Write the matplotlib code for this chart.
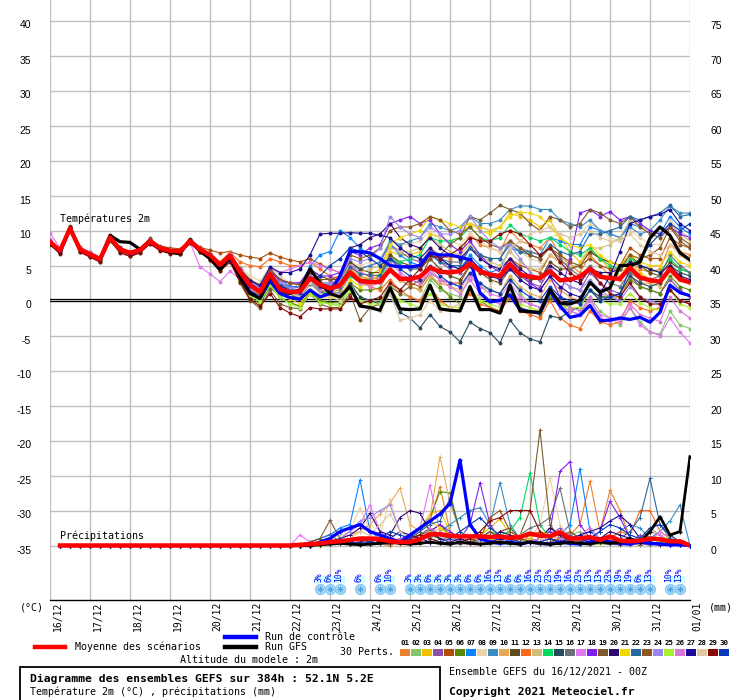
import matplotlib
matplotlib.use('Agg')
import matplotlib.pyplot as plt
from matplotlib.lines import Line2D
from matplotlib.patches import Rectangle

# ---------------- data ----------------
days = ['16/12', '17/12', '18/12', '19/12', '20/12', '21/12', '22/12', '23/12',
        '24/12', '25/12', '26/12', '27/12', '28/12', '29/12', '30/12', '31/12', '01/01']
steps = list(range(65))          # 6-hourly steps, 0h .. 384h

member_colors = ['#E8822E', '#88C66E', '#F0C000', '#8C50A8', '#B04E0A', '#5A8A00',
                 '#0A84FF', '#E8D4A8', '#3C8CC0', '#E8A858', '#5E4A1A', '#F86A1E',
                 '#D2BE78', '#00D860', '#284A5E', '#6A7078', '#E078F0', '#8020F0',
                 '#7C5A2E', '#2C0870', '#F0D800', '#2868A0', '#8E5620', '#9A88F0',
                 '#A8F030', '#D878D8', '#1C0C98', '#E0C8A0', '#880808', '#0838B8']

# 2m temperature (degC), members 01..30
temp_members = [
    [8.3,7.0,10.4,7.2, 6.4,5.8,8.8,7.0, 6.5,7.0,8.3,7.3, 7.0,6.9,8.4,7.1, 6.2,4.8,6.0,3.5, 1.5,0.5,3.2,1.5, 0.8,0.5,2.5,1.5, 1.2,1.5,4.5,3.5, 3.0,3.5,6.5,5.0, 4.5,4.8,7.5,6.5, 6.0,6.5,9.5,8.0, 7.5,7.0,10.0,8.5, 8.0,7.5,9.0,6.5, 5.0,4.0,6.5,5.0, 3.5,3.0,5.5,4.5, 4.0,4.5,8.0,7.0, 6.5],
    [8.5,7.2,10.2,7.4, 6.7,6.0,8.6,7.1, 6.6,7.1,8.2,7.4, 7.2,7.1,8.2,7.0, 6.0,4.5,5.5,3.0, 1.0,0.0,2.5,0.5, -0.5,-0.8,1.5,0.0, -0.5,-0.5,2.0,0.5, 0.0,-0.3,2.5,1.0, 0.5,0.0,3.0,1.5, 1.0,0.5,3.5,2.0, 1.5,1.0,3.5,1.0, -0.5,-1.0,1.5,-0.5, -1.5,-2.0,0.5,-1.5, -2.5,-3.5,-1.0,-3.0, -4.5,-4.8,-1.5,-3.5, -4.0],
    [8.2,6.9,10.5,7.3, 6.5,5.9,8.9,7.2, 6.7,7.0,8.6,7.6, 7.0,6.8,8.6,7.2, 6.4,5.0,6.2,3.8, 1.8,0.8,3.5,1.8, 0.8,0.3,2.8,1.5, 1.0,1.2,4.0,3.0, 3.5,4.5,7.0,6.5, 6.5,7.0,9.5,9.0, 8.5,9.0,11.0,10.5, 10.0,10.5,12.5,12.0, 11.5,10.5,11.5,9.0, 7.0,5.5,7.5,6.0, 4.5,3.5,5.5,4.0, 3.0,2.5,5.0,3.5, 2.5],
    [8.6,7.3,10.3,7.5, 6.8,6.1,9.2,7.5, 6.9,7.3,8.7,7.6, 7.2,7.0,8.7,7.4, 6.5,5.2,6.5,4.2, 2.5,1.5,4.0,2.5, 2.0,1.8,3.5,2.5, 2.5,2.8,5.5,4.5, 5.0,5.5,8.0,7.0, 6.0,5.5,7.0,5.5, 4.5,4.0,6.0,4.5, 3.5,3.0,5.0,3.5, 2.5,2.0,4.5,3.0, 2.0,1.5,4.0,2.5, 1.5,1.0,3.5,2.0, 1.5,1.0,3.0,1.5, 0.5],
    [8.4,7.1,10.4,7.6, 6.9,6.2,9.0,7.4, 7.0,7.4,8.5,7.8, 7.5,7.4,8.6,7.6, 7.2,6.8,7.0,6.5, 6.2,6.0,6.8,6.2, 5.8,5.5,6.0,5.2, 4.5,4.0,5.0,4.0, 3.5,3.0,4.5,3.5, 2.5,2.0,4.0,3.0, 2.5,2.5,5.0,4.0, 3.5,3.5,6.0,5.0, 4.5,4.0,6.5,5.5, 5.0,5.0,7.0,6.0, 5.5,5.0,7.5,6.5, 6.0,6.0,9.0,8.0, 7.5],
    [8.0,6.8,10.3,7.0, 6.3,5.6,8.5,6.9, 6.4,6.9,8.1,7.2, 6.8,6.7,8.2,6.9, 5.8,4.2,5.6,2.8, 0.5,-0.5,2.0,0.5, -0.3,-0.8,1.2,0.0, -0.3,-0.2,2.5,1.5, 1.5,1.8,4.5,3.0, 2.0,1.5,3.5,2.0, 0.5,-0.5,1.5,0.0, -1.0,-1.5,0.5,-1.0, -1.5,-2.0,0.5,-0.5, -1.0,-1.0,1.5,0.5, 0.5,0.5,3.0,2.0, 1.5,1.0,3.5,2.0, 1.5],
    [8.3,7.0,10.2,7.2, 6.5,5.8,8.9,7.2, 6.8,7.2,8.4,7.4, 7.1,7.0,8.5,7.2, 6.3,5.0,6.3,4.0, 2.2,1.5,4.5,3.0, 2.0,2.0,4.9,6.5, 7.0,10.0,9.0,7.5, 6.5,6.0,8.0,6.5, 5.5,5.0,7.0,6.0, 5.0,4.5,6.5,5.0, 4.0,4.5,7.5,7.0, 7.0,6.5,9.0,8.5, 8.0,8.0,10.5,10.0, 9.5,9.0,11.0,10.5, 10.0,9.5,12.0,10.5, 9.5],
    [8.5,7.2,10.4,7.4, 6.7,6.0,9.1,7.3, 6.8,7.2,8.5,7.5, 7.1,7.0,8.5,7.3, 6.6,5.5,6.8,4.8, 3.5,2.8,4.8,3.5, 2.5,2.0,3.5,2.5, 2.0,2.5,5.5,5.0, 5.5,6.0,8.5,8.0, 8.0,8.5,10.0,9.0, 8.5,8.0,9.5,8.5, 7.5,7.0,8.5,7.0, 6.0,5.5,9.0,9.5, 9.0,9.5,11.0,10.0, 9.0,8.5,10.0,9.0, 8.0,8.0,11.5,10.0, 9.0],
    [8.2,6.9,10.3,7.1, 6.4,5.7,8.7,7.0, 6.5,7.0,8.3,7.3, 6.9,6.8,8.3,7.0, 6.0,4.6,6.0,3.4, 1.4,0.6,3.4,1.8, 1.2,1.0,3.0,2.0, 2.0,2.5,5.0,4.5, 5.0,5.5,8.5,8.0, 8.5,9.0,11.0,10.5, 10.0,10.5,12.0,11.0, 11.0,11.5,13.0,13.5, 13.5,13.0,13.0,11.5, 11.0,10.5,11.5,10.0, 9.5,9.0,10.5,9.5, 10.0,11.5,13.5,12.5, 12.5],
    [8.4,7.0,10.3,7.3, 6.6,6.0,8.9,7.3, 6.8,7.3,8.5,7.5, 7.0,6.9,8.4,7.3, 6.5,5.3,6.4,4.3, 2.5,1.8,4.0,2.5, 1.5,1.2,3.0,2.0, 1.5,2.0,4.5,3.5, 3.0,2.5,4.5,3.0, 2.0,1.5,3.5,2.5, 2.0,1.5,4.0,2.5, 1.5,1.0,3.5,2.0, 1.0,0.5,3.0,1.5, 0.5,0.0,2.5,1.0, 0.5,0.5,3.5,2.5, 2.5,2.0,4.5,3.0, 2.5],
    [8.1,6.8,10.5,7.2, 6.4,5.7,9.3,7.6, 6.9,7.4,8.8,7.7, 7.3,7.1,8.7,7.4, 6.7,5.4,6.6,4.5, 2.8,2.0,4.2,3.0, 2.5,2.5,4.5,3.5, 3.0,3.0,5.5,4.5, 4.0,4.0,6.5,5.5, 5.0,4.5,6.0,4.5, 3.5,3.0,5.0,4.0, 3.0,2.5,4.5,3.5, 3.0,3.0,5.5,4.5, 4.5,5.0,7.0,6.0, 5.5,5.0,6.5,5.0, 4.0,3.5,5.5,4.5, 4.0],
    [8.5,7.2,10.3,7.4, 6.6,5.9,9.0,7.3, 6.8,7.2,8.5,7.5, 7.1,7.0,8.5,7.3, 6.5,5.5,6.9,5.5, 5.0,4.8,6.0,5.5, 5.0,5.0,5.5,4.5, 3.5,3.0,4.5,3.0, 2.0,1.5,3.0,1.5, 0.5,0.0,2.0,0.0, -1.0,-1.0,1.0,-0.5, -1.0,-1.5,0.5,-1.5, -2.0,-2.5,0.0,-2.5, -3.5,-4.0,-1.5,-3.0, -3.5,-3.0,0.0,-1.0, -1.5,-1.0,1.5,0.0, -0.5],
    [8.3,7.1,10.4,7.3, 6.6,5.9,8.9,7.2, 6.7,7.1,8.4,7.4, 7.0,6.9,8.5,7.2, 6.4,5.1,6.4,4.1, 2.4,1.5,3.8,2.2, 1.5,1.4,3.4,2.5, 2.5,2.8,5.0,4.0, 4.5,5.0,7.5,7.0, 7.0,7.5,9.0,8.0, 7.0,6.5,8.0,6.5, 5.5,5.0,7.0,5.5, 4.5,4.5,6.5,5.5, 5.0,5.0,7.5,7.5, 8.0,9.0,11.5,10.5, 10.0,9.5,11.0,9.5, 8.5],
    [8.4,7.1,10.2,7.2, 6.5,5.8,8.8,7.1, 6.6,7.1,8.3,7.3, 6.9,6.8,8.3,7.1, 6.2,4.7,6.1,3.6, 1.6,0.7,3.3,1.5, 0.8,0.6,2.6,1.4, 1.0,1.2,3.5,2.5, 2.5,3.0,6.0,5.5, 6.0,6.5,9.0,8.5, 8.5,9.0,10.5,9.0, 8.5,9.0,10.8,9.5, 9.0,8.5,9.0,8.0, 7.0,6.5,7.5,6.0, 5.0,4.5,6.0,5.0, 4.5,4.0,6.0,4.5, 4.0],
    [8.2,6.9,10.3,7.1, 6.4,5.7,8.7,7.0, 6.5,6.9,8.3,7.2, 6.8,6.7,8.3,7.0, 6.0,4.7,6.0,3.5, 1.5,0.6,3.2,1.4, 0.6,0.4,2.4,1.2, 0.8,0.5,2.5,0.5, 0.0,-0.5,1.0,-1.7, -2.5,-3.9,-2.0,-3.7, -4.5,-5.9,-3.1,-4.0, -4.6,-6.1,-2.8,-4.6, -5.5,-5.9,-2.2,-2.5, -1.5,-1.0,1.5,0.5, 0.5,1.0,3.5,2.5, 2.0,2.5,5.0,4.0, 3.5],
    [8.5,7.2,10.3,7.4, 6.7,6.0,9.0,7.3, 6.8,7.2,8.5,7.5, 7.1,7.0,8.5,7.3, 6.5,5.2,6.5,4.0, 2.0,1.0,3.5,1.8, 1.0,0.8,2.8,1.8, 1.5,1.8,4.0,3.0, 3.0,3.5,6.0,5.0, 5.0,5.0,7.0,6.0, 5.5,5.5,7.5,6.5, 6.0,6.0,8.5,7.5, 7.0,6.5,7.5,6.0, 4.5,3.5,5.0,3.5, 2.5,2.0,4.0,3.0, 3.0,3.5,6.5,5.0, 4.0],
    [9.6,7.5,10.4,7.6, 6.9,6.1,8.8,7.3, 6.9,7.4,8.4,7.6, 7.3,7.2,8.3,4.8, 3.8,2.7,4.2,3.0, 1.5,1.0,4.5,4.0, 4.5,5.0,5.5,5.0, 4.5,4.0,5.0,4.0, 3.5,3.0,4.5,3.5, 3.0,2.5,4.0,3.0, 2.5,2.0,3.5,2.0, 1.0,0.5,2.5,0.5, -0.5,-1.0,1.0,-1.0, -1.5,-2.0,0.0,-2.0, -2.5,-3.0,-1.0,-3.5, -4.5,-5.0,-2.5,-4.5, -6.1],
    [8.6,7.3,10.3,7.5, 6.8,6.1,9.1,7.5, 7.0,7.3,8.6,7.6, 7.2,7.1,8.6,7.4, 6.6,5.3,6.6,4.3, 2.5,1.8,4.2,2.8, 2.5,2.5,4.5,3.5, 3.5,4.0,7.0,6.5, 7.5,8.0,11.0,11.5, 12.0,11.0,11.5,9.5, 8.0,7.0,8.5,6.5, 5.0,4.0,6.0,4.0, 2.5,1.5,3.5,0.5, 6.0,12.5,13.0,12.0, 12.7,11.5,12.0,11.0, 10.0,9.5,10.5,9.5, 9.0],
    [8.2,6.8,10.6,7.0, 6.2,5.5,9.1,7.2, 6.3,6.8,8.9,7.4, 6.8,6.6,8.8,7.1, 5.8,4.3,5.8,2.5, 0.0,-1.1,1.5,-0.5, -1.0,-1.2,1.0,-0.5, -1.0,-1.0,1.0,-2.8, -1.0,-0.5,2.0,1.0, 2.0,3.0,6.0,6.5, 8.0,9.0,12.0,11.5, 12.5,13.6,13.0,12.5, 11.0,10.0,12.0,11.5, 10.5,11.0,13.0,12.5, 11.5,11.0,12.0,10.5, 9.5,9.0,10.5,8.5, 7.5],
    [8.4,7.1,10.3,7.3, 6.6,5.9,9.0,7.3, 6.8,7.2,8.5,7.5, 7.0,6.9,8.5,7.3, 6.5,5.1,6.4,4.1, 2.2,1.2,3.8,2.2, 1.4,1.2,3.0,2.0, 2.0,3.5,7.5,8.0, 9.0,9.5,11.0,9.0, 8.0,7.5,9.0,7.5, 6.5,6.0,7.5,6.0, 5.0,4.5,6.0,4.5, 3.5,3.0,5.0,4.0, 3.0,2.5,4.5,4.0, 4.0,4.5,5.5,5.0, 4.5,4.0,5.0,3.5, 3.0],
    [8.3,7.0,10.4,7.2, 6.5,5.8,8.9,7.2, 6.7,7.1,8.4,7.4, 7.0,6.9,8.4,7.2, 6.3,4.9,6.2,3.8, 1.8,0.8,3.0,1.0, 0.2,-0.5,1.5,0.5, 0.5,0.5,3.0,2.0, 2.5,4.0,8.0,9.0, 9.5,10.0,12.0,11.5, 11.0,10.5,11.0,10.0, 9.5,10.5,12.0,12.6, 12.5,12.0,10.5,9.0, 8.0,7.5,8.0,6.5, 5.5,5.0,6.5,5.5, 5.0,5.0,7.0,5.5, 5.0],
    [8.5,7.2,10.3,7.3, 6.6,5.9,9.0,7.3, 6.8,7.2,8.5,7.5, 7.1,7.0,8.5,7.3, 6.5,5.2,6.5,4.2, 2.3,1.4,3.9,2.4, 1.6,1.4,3.4,2.4, 2.2,2.4,4.8,3.8, 3.6,3.6,6.0,5.0, 4.5,4.5,6.5,5.5, 5.0,5.0,7.5,6.5, 6.0,6.0,8.0,7.0, 6.5,6.0,8.0,7.0, 6.5,7.0,9.5,9.5, 10.0,10.5,12.0,11.5, 12.0,12.5,13.6,12.0, 12.3],
    [8.3,7.0,10.5,7.4, 6.6,5.9,9.2,7.5, 6.9,7.3,8.7,7.6, 7.1,7.0,8.7,7.4, 6.6,5.4,6.7,4.6, 3.0,2.2,4.5,3.0, 2.5,2.2,4.0,3.0, 3.0,3.5,6.5,6.0, 6.5,7.5,10.0,10.5, 10.5,11.0,12.0,11.5, 10.0,9.5,10.5,9.0, 8.0,7.5,8.5,7.5, 6.5,6.0,7.5,6.5, 5.5,5.0,6.0,5.0, 4.5,4.5,6.5,6.0, 6.5,7.5,10.5,9.0, 8.0],
    [8.6,7.2,10.2,7.5, 6.8,6.1,9.1,7.4, 6.9,7.3,8.6,7.6, 7.2,7.1,8.6,7.4, 6.6,5.3,6.7,4.5, 2.7,1.8,4.0,2.6, 1.8,1.5,3.5,2.5, 2.5,3.0,6.0,5.5, 6.0,7.5,12.0,10.5, 9.5,9.0,10.5,9.5, 9.5,10.0,12.1,10.0, 8.5,7.5,8.0,6.0, 4.0,3.0,4.5,3.0, 2.0,1.5,3.0,1.5, 0.5,0.0,2.0,0.5, 0.0,-0.5,1.5,0.0, -0.5],
    [8.2,6.9,10.3,7.1, 6.4,5.7,8.6,7.0, 6.5,7.0,8.2,7.2, 6.8,6.7,8.2,7.0, 6.0,4.4,5.8,3.0, 0.8,-0.2,2.2,0.5, -0.5,-1.0,1.0,-0.3, -0.5,-0.8,1.5,0.0, -0.5,-0.5,1.5,0.0, -0.5,-1.0,1.0,-0.5, -1.0,-1.0,1.5,0.0, -0.5,-1.0,1.0,-0.5, -1.0,-1.5,1.0,-0.5, -1.0,-1.0,1.5,0.0, -0.5,-0.5,1.0,-0.3, -1.0,-1.5,1.5,-0.5, -1.0],
    [8.4,7.0,10.3,7.3, 6.6,5.9,8.9,7.2, 6.7,7.1,8.4,7.4, 7.0,6.9,8.4,7.2, 6.4,5.0,6.3,3.9, 1.8,1.0,3.5,2.0, 1.0,0.8,2.8,1.5, 1.2,1.0,3.8,2.5, 2.0,2.5,5.5,4.0, 3.0,2.5,4.5,3.0, 2.0,1.0,3.0,1.0, 0.0,-0.5,1.5,0.0, -0.5,-1.0,1.5,0.0, -1.0,-1.5,0.5,-2.5, -3.0,-2.5,-0.5,-2.0, -2.5,-3.0,0.5,-1.5, -2.5],
    [8.3,7.0,10.4,7.3, 6.6,5.9,9.0,7.3, 6.8,7.2,8.5,7.5, 7.0,6.9,8.5,7.3, 6.4,5.1,6.5,4.4, 2.8,2.2,4.8,4.0, 4.0,4.5,6.5,9.5, 9.6,9.6,9.7,9.6, 9.6,9.3,9.0,7.5, 6.5,6.0,7.5,6.0, 5.0,4.5,6.0,4.5, 3.5,3.0,4.5,3.0, 2.0,1.5,3.5,2.0, 1.0,0.5,2.5,1.0, 3.5,7.0,11.0,11.5, 12.0,12.3,13.0,11.0, 10.0],
    [8.5,7.1,10.3,7.4, 6.7,6.0,9.0,7.3, 6.8,7.2,8.4,7.5, 7.1,7.0,8.5,7.3, 6.5,5.2,6.5,4.2, 2.0,1.2,3.5,2.0, 1.0,0.5,2.5,1.0, 0.5,0.0,2.0,-0.5, -1.0,-1.5,1.0,-2.8, -2.5,-2.0,0.0,-1.5, -1.0,-0.5,1.5,0.5, 2.0,4.0,7.5,8.5, 9.5,10.0,10.5,9.5, 9.0,9.5,10.0,9.0, 8.5,8.5,9.5,8.0, 7.0,6.5,8.0,6.5, 5.5],
    [8.1,6.7,10.5,6.9, 6.2,5.5,8.6,6.8, 6.3,6.8,8.1,7.1, 6.7,6.6,8.2,6.9, 5.8,4.2,5.5,2.7, 0.2,-0.8,1.0,-1.0, -1.8,-2.3,-1.0,-1.2, -1.2,-1.2,0.5,-0.5, 0.0,0.5,2.5,1.5, 3.0,4.5,6.5,6.0, 6.5,7.5,9.0,8.5, 8.5,9.5,10.0,9.5, 8.0,6.5,7.5,5.5, 4.0,3.0,4.5,2.5, 1.0,0.5,2.5,0.5, -0.5,-0.5,1.5,0.0, -0.5],
    [8.4,7.1,10.3,7.3, 6.6,5.9,9.0,7.3, 6.8,7.2,8.5,7.5, 7.1,7.0,8.5,7.3, 6.5,5.1,6.4,4.1, 2.1,1.1,3.7,2.1, 1.3,1.1,3.1,3.5, 5.0,6.0,7.5,7.0, 6.0,5.0,6.0,4.5, 3.5,3.0,5.0,3.5, 2.5,2.0,4.0,2.5, 1.5,1.0,3.0,1.5, 0.5,0.0,2.0,0.5, 0.0,-0.5,1.5,0.0, 0.5,1.0,4.5,6.0, 8.0,9.5,11.0,10.0, 11.0],
]

temp_control = [8.3,6.9,10.3,7.2, 6.5,5.8,8.9,7.2, 6.7,7.1,8.4,7.4, 7.0,6.9,8.4,7.2, 6.2,4.8,6.0,3.5, 1.2,0.3,2.8,1.0, 0.4,0.2,1.5,0.5, 1.0,3.5,7.0,7.0, 6.8,6.0,5.0,4.8, 4.8,5.0,6.8,6.5, 6.5,6.2,5.8,1.1, -0.2,0.0,0.8,-1.3, -1.6,-1.8,1.3,-0.8, -2.4,-2.1,-0.7,-2.9, -2.8,-2.5,-2.7,-2.4, -3.1,-1.7,2.2,1.1, 0.7]
temp_gfs = [8.2,6.9,10.4,7.3, 6.6,5.9,9.3,8.4, 8.3,7.3,8.6,7.4, 6.9,6.7,8.7,7.1, 6.0,4.4,6.2,3.3, 1.0,0.3,3.5,1.5, 1.0,1.5,4.5,2.5, 1.0,0.5,2.0,-0.8, -1.0,-1.4,1.8,-1.2, -1.3,-1.2,2.2,-1.2, -1.4,-1.5,2.0,-1.3, -1.3,-1.8,2.2,-1.5, -1.6,-1.7,1.6,-0.4, -0.5,0.0,2.6,1.2, 1.8,5.0,5.0,5.5, 8.9,10.5,9.3,6.8, 5.8]
temp_mean = [8.4,7.1,10.3,7.3, 6.6,5.9,9.0,7.3, 6.8,7.2,8.5,7.5, 7.1,7.0,8.5,7.3, 6.5,5.1,6.4,4.1, 2.2,1.2,3.8,1.6, 1.2,1.3,3.2,2.3, 1.7,2.2,4.0,2.8, 2.6,2.7,4.4,3.1, 3.1,3.4,4.7,4.1, 4.0,4.2,5.3,4.2, 3.7,3.5,5.2,3.7, 3.4,3.2,4.2,2.9, 3.0,3.4,4.5,3.4, 3.2,3.1,4.7,3.3, 2.9,2.7,4.5,3.0, 2.6]

# precipitation (mm per 6h); steps 1..23 are dry, values below start at step 24
precip_start = 24
precip_members = [
    [0,0,0.2,0.5,0.3,0.2,0.5,1.0,0.5,0.2,0.0,0.5,1.0,2.0,3.5,8.4,2.0,1.0,0.5,0.3,0.5,1.0,0.5,0.2,1.5,2.0,1.0,0.5,1.5,3.0,9.2,2.0,7.9,5.0,1.0,0.5,0.3,0.2,0.5,0.2,0.0],
    [0,0,0,0.2,0.3,0.5,0.3,0.2,0.5,1.0,0.5,0.3,0.5,1.5,2.5,1.0,0.5,0.3,0.2,0.5,0.3,0.2,0.5,1.0,0.5,0.3,0.2,0.5,1.5,2.0,1.0,0.5,0.3,0.2,0.5,1.0,2.5,1.5,0.5,0.3,0.0],
    [0,0,0,0,0.2,0.5,0.3,0.5,1.0,0.5,0.2,0.5,1.5,2.5,4.5,5.0,2.0,1.0,0.5,1.5,2.5,3.8,1.5,0.5,1.0,0.5,0.3,0.5,1.0,0.5,0.2,0.3,0.5,0.2,0.1,0.3,0.5,0.2,0.1,0.2,0.0],
    [0,0,0,0.1,0.2,0.3,0.5,0.3,1.0,1.5,1.0,0.5,0.3,1.0,2.0,1.5,1.0,0.5,0.3,0.5,1.0,0.5,0.3,0.5,1.0,2.0,1.5,2.5,1.5,0.5,0.3,0.5,1.0,0.5,0.3,1.5,0.5,0.3,0.5,0.2,0.0],
    [0,0.2,0.5,1.0,1.6,0.5,0.3,0.2,0.5,0.3,0.2,0.5,1.0,1.5,2.0,1.5,0.5,0.3,0.5,1.0,1.5,0.5,0.3,0.2,0.5,1.0,0.5,0.3,0.5,1.5,1.0,0.5,0.3,0.2,0.5,1.0,0.5,0.3,0.2,0.1,0.0],
    [0,0,0,0.2,0.5,1.0,0.5,0.3,0.5,0.3,0.2,0.5,1.0,2.5,4.0,7.7,7.5,2.0,1.0,0.5,0.3,0.5,1.0,0.5,0.3,0.2,0.5,0.3,0.2,0.5,1.0,0.5,0.3,0.2,0.1,0.3,0.5,0.2,0.1,0.2,0.0],
    [0,0,0.5,1.0,1.5,2.5,3.0,9.4,2.0,1.0,0.5,0.3,0.5,1.0,1.5,1.0,0.5,0.3,0.5,0.2,0.5,1.0,0.5,0.3,0.5,1.0,2.0,1.5,3.0,11.0,2.0,1.0,0.5,0.3,0.2,0.5,0.3,0.2,0.1,0.2,0.0],
    [0,0,0.2,0.5,1.0,1.5,2.0,5.4,2.0,1.5,6.7,2.0,1.0,0.5,0.3,0.5,1.0,0.5,0.3,0.5,1.0,0.5,0.3,0.5,1.0,3.0,9.7,3.0,1.0,0.5,0.3,0.2,0.5,0.3,0.2,0.1,0.3,0.5,0.2,0.1,0.0],
    [0,0,0,0.2,0.3,0.5,0.3,0.5,1.0,0.5,0.3,0.5,1.0,1.5,1.0,2.0,3.0,4.0,5.0,5.4,3.0,9.0,3.0,1.0,0.5,0.3,0.5,1.0,0.5,0.3,0.2,0.5,1.0,2.0,3.0,2.5,1.0,2.0,3.5,5.8,0.0],
    [0,0,0,0.2,0.5,1.0,1.5,2.0,3.0,4.5,6.0,8.2,3.0,2.0,4.0,12.7,6.0,2.0,1.0,0.5,0.3,0.5,1.0,0.5,0.3,0.2,0.5,1.0,0.5,0.3,0.2,0.5,0.3,0.2,0.1,0.3,0.2,0.1,0.2,0.1,0.0],
    [0,0,0,0.1,0.3,0.5,0.2,0.3,0.5,1.0,0.5,0.3,0.5,1.0,2.0,3.0,1.5,0.5,0.3,0.5,1.0,2.0,2.5,1.0,0.5,0.3,0.5,1.0,0.5,0.3,0.5,1.0,0.5,0.3,0.2,0.1,0.3,0.2,0.1,0.2,0.0],
    [0,0,0,0.2,0.5,0.3,0.2,0.5,1.0,0.5,0.3,0.2,0.5,1.0,1.5,1.0,0.5,0.3,0.2,0.5,1.0,0.5,0.3,0.2,0.5,1.0,2.0,1.5,1.0,0.5,0.3,0.5,1.0,2.0,1.5,5.0,5.0,2.0,1.0,0.5,0.0],
    [0,0,0,0.3,0.5,0.3,0.2,0.5,1.0,1.5,1.0,0.5,0.3,0.5,1.5,2.5,1.5,0.5,0.3,0.2,0.5,1.0,0.5,0.3,0.5,1.0,2.5,1.5,0.5,0.3,0.2,0.5,0.3,0.2,0.5,0.3,0.2,0.1,0.2,0.1,0.0],
    [0,0,0,0.2,0.3,0.5,0.3,0.2,0.5,1.0,0.5,0.3,0.5,1.0,1.5,1.0,0.5,0.3,0.5,1.0,2.0,1.5,2.0,4.0,10.4,3.0,1.0,0.5,0.3,0.2,0.5,0.3,0.2,0.5,0.3,0.2,0.1,0.3,0.2,0.1,0.0],
    [0,0,0,0.2,0.5,0.3,0.2,0.3,0.5,0.3,0.2,0.5,1.0,1.5,1.0,0.5,0.3,0.2,0.5,1.0,0.5,0.3,0.2,0.5,1.0,0.5,0.3,0.2,0.5,1.0,0.5,0.3,0.2,0.1,0.3,0.5,0.2,0.1,0.2,0.1,0.0],
    [0,0,0,0.3,0.5,1.0,0.5,0.3,0.5,0.3,0.2,0.5,1.0,1.5,2.5,1.5,1.0,0.5,0.3,1.0,2.0,1.0,0.5,1.5,2.5,3.0,4.0,8.2,2.0,1.0,0.5,0.3,0.5,1.0,0.5,0.3,0.2,0.5,0.3,0.2,0.0],
    [0,1.5,0.5,0.3,0.5,1.0,2.0,3.0,5.8,2.0,1.0,0.5,1.0,2.5,8.6,2.0,1.0,0.5,0.3,0.5,1.0,0.5,0.3,0.5,1.0,0.5,0.3,0.5,1.0,0.5,0.3,0.2,0.5,1.0,0.5,0.3,0.5,2.0,1.0,0.5,0.0],
    [0,0,0,0.2,0.5,0.3,0.5,1.0,0.5,0.3,0.5,1.0,0.5,1.0,2.0,3.0,2.0,1.0,3.0,9.0,3.0,1.0,0.5,0.3,0.5,1.0,2.0,10.6,12.0,3.0,1.0,2.0,6.3,4.0,1.0,0.5,0.3,0.2,0.5,0.3,0.0],
    [0,0,0.5,1.0,3.6,1.0,0.5,0.3,0.5,1.0,0.5,0.3,0.5,1.0,1.5,1.0,0.5,0.3,0.5,1.0,2.0,1.0,0.5,1.5,5.0,16.5,3.0,1.0,0.5,0.3,0.5,1.0,0.5,0.3,0.2,0.5,0.3,0.2,0.1,0.2,0.0],
    [0,0,0,0.2,0.5,1.0,1.5,2.5,4.6,2.0,1.5,4.0,5.0,4.6,2.0,1.0,0.5,0.3,0.5,1.0,0.5,2.0,1.5,1.0,0.5,1.0,2.5,1.5,0.5,0.3,0.5,1.0,2.0,1.5,1.0,0.5,0.3,0.5,1.0,0.5,0.0],
    [0,0,0,0.1,0.3,0.5,0.3,0.2,0.5,1.0,0.5,0.3,1.0,2.0,3.5,2.5,1.5,1.0,0.5,1.5,2.5,1.5,1.0,0.5,1.0,2.0,1.5,0.5,0.3,0.2,0.5,0.3,0.2,0.5,0.3,0.2,0.1,0.2,0.5,0.2,0.0],
    [0,0,0,0.2,0.3,0.5,1.0,0.5,0.3,0.5,1.0,0.5,1.0,2.0,3.0,3.5,6.8,2.0,1.0,0.5,0.3,0.5,1.0,0.5,0.3,0.5,1.0,0.5,0.3,0.2,0.5,1.0,0.5,1.0,2.0,4.0,9.6,3.0,1.0,0.5,0.0],
    [0,0,0,0.2,0.5,0.3,0.2,0.5,1.0,0.5,0.3,0.5,1.0,1.5,2.0,1.5,1.0,0.5,0.3,1.0,4.0,5.0,2.0,1.0,0.5,0.3,0.5,1.0,2.0,1.0,0.5,0.3,0.5,1.0,0.5,0.3,0.2,0.1,0.3,0.2,0.0],
    [0,0,0,0.3,0.5,1.0,2.0,3.5,4.0,5.0,5.8,2.0,1.0,0.5,0.3,0.5,1.0,0.5,0.3,0.5,1.0,0.5,0.3,0.2,0.5,1.0,0.5,0.3,0.5,1.0,0.5,0.3,0.2,0.5,0.3,0.2,0.1,0.3,0.2,0.1,0.0],
    [0,0,0,0.1,0.2,0.3,0.2,0.5,0.3,0.2,0.5,1.0,0.5,1.0,2.0,1.5,0.5,0.3,0.2,0.5,1.0,0.5,0.3,0.2,0.5,0.3,0.2,0.5,1.0,0.5,0.3,0.2,0.5,0.3,0.2,0.5,1.0,0.5,1.5,0.5,0.0],
    [0,0,0,0.2,0.3,0.5,1.0,0.5,0.3,0.2,0.5,1.0,1.5,1.0,2.5,1.5,0.5,0.3,0.2,0.5,0.3,1.0,0.5,0.3,0.5,1.0,1.5,1.0,0.5,1.5,2.5,1.0,0.5,0.3,0.2,0.5,2.0,1.5,0.5,0.3,0.0],
    [0,0,0,0.2,0.5,0.3,0.5,1.0,0.5,0.3,1.0,2.0,1.5,1.0,0.5,0.3,0.5,1.0,0.5,0.3,0.5,1.0,0.5,0.3,0.5,0.3,0.2,0.5,1.0,1.5,2.0,2.5,3.5,4.3,3.0,1.0,0.5,0.3,0.2,0.1,0.0],
    [0,0,0,0.2,0.3,0.5,1.0,2.0,1.5,3.0,4.5,2.0,1.0,0.5,0.3,0.5,1.0,2.0,1.5,0.5,0.3,0.5,1.0,1.5,2.0,1.0,0.5,0.3,0.5,0.3,0.2,0.5,0.3,0.2,0.1,0.3,0.2,0.1,0.2,0.1,0.0],
    [0,0,0,0.3,0.5,0.3,0.2,0.5,1.0,0.5,0.3,0.5,1.0,1.5,1.0,0.5,0.3,0.5,1.0,2.0,3.5,4.0,5.0,5.0,5.0,2.0,1.0,0.5,0.3,0.5,1.0,0.5,0.3,0.2,0.5,0.3,0.2,0.1,0.3,0.2,0.0],
    [0,0,0,0.2,0.5,1.0,0.5,0.3,0.5,1.0,2.0,1.5,1.0,0.5,0.3,0.5,1.0,2.0,3.0,4.0,2.5,1.5,1.0,0.5,0.3,0.5,1.0,0.5,0.3,0.5,1.0,2.0,3.0,2.5,1.5,1.0,2.5,3.0,1.5,0.5,0.0],
]
precip_control = [0,0,0,0.5,1.0,2.0,2.5,3.0,2.0,1.5,1.0,0.5,1.5,2.5,3.5,4.5,6.0,12.2,3.0,1.0,0.5,0.3,0.5,0.2,0.5,0.3,0.2,0.5,0.3,0.2,0.5,1.0,0.5,0.3,0.2,0.5,0.3,0.2,0.1,0.1,0.0]
precip_gfs = [0,0,0,0.1,0.2,0.3,0.2,0.1,0.2,0.3,0.5,0.3,0.2,0.3,0.5,0.3,0.2,0.5,0.3,0.2,0.3,0.5,0.3,0.2,0.5,0.3,0.2,0.3,0.5,0.3,0.2,0.5,0.3,0.5,1.0,0.5,2.0,4.1,1.5,2.0,12.7]
precip_mean = [0.0,0.1,0.2,0.3,0.5,0.6,0.8,1.0,1.0,0.9,0.6,0.5,0.5,0.9,1.6,1.6,1.4,1.3,1.3,1.3,1.2,1.3,1.1,1.2,1.7,1.4,1.3,1.9,1.0,1.0,1.2,0.8,1.3,0.7,0.6,0.7,1.0,0.9,0.6,0.6,0.0]

# snow probability (%) at the steps where it is shown
snow_steps = [27, 28, 29, 31, 33, 34, 36, 37, 38, 39, 40, 41, 42, 43, 44, 45, 46, 47,
              48, 49, 50, 51, 52, 53, 54, 55, 56, 57, 58, 59, 60, 62, 63]
snow_pct = [3, 6, 10, 6, 6, 10, 3, 3, 6, 3, 3, 3, 6, 6, 16, 13, 6, 6,
            16, 23, 23, 19, 16, 23, 13, 13, 23, 19, 19, 6, 13, 10, 13]

# ---------------- figure ----------------
W, H = 740, 700
MONO = 'DejaVu Sans Mono'
fig = plt.figure(figsize=(W / 100, H / 100), dpi=100)
fig.patch.set_facecolor('white')


def ypx(py):
    # pixel row of the picture -> temperature value on the left scale
    return 40 - (py - 20.5) / 7


def fx(px):
    return px / W


def fy(py):
    return 1 - py / H


ax = fig.add_axes([fx(50), 100 / H, 640 / W, 600 / H])
ax.set_xlim(0, 64)
ax.set_ylim(ypx(600), ypx(0))
ax.set_xticks(range(0, 65, 4))
ax.set_xticklabels([])
ax.set_yticks(range(-35, 41, 5))
ax.set_yticklabels([str(v) for v in range(-35, 41, 5)], fontsize=7.5, family='Liberation Sans')
ax.tick_params(length=0)
ax.tick_params(axis='y', pad=13.5)
for t in ax.get_yticklabels():
    t.set_verticalalignment('top')
ax.grid(True, color='#C0C0C0', lw=1.0)
ax.set_axisbelow(True)
for s in ['top', 'left', 'right']:
    ax.spines[s].set_visible(False)
ax.spines['bottom'].set_color('black')
ax.spines['bottom'].set_linewidth(1.0)

# zero line (double)
ax.axhline(0.17, color='black', lw=0.9, zorder=2)
ax.axhline(-0.13, color='black', lw=0.9, zorder=2)

# temperature
for vals, col in zip(temp_members, member_colors):
    ax.plot(steps, vals, color=col, lw=0.8, marker='o', ms=1.8, mec=col, zorder=3)
ax.plot(steps, temp_control, color='#0000FF', lw=2.3, zorder=4)
ax.plot(steps, temp_gfs, color='black', lw=2.3, zorder=4)
ax.plot(steps, temp_mean, color='#FF0000', lw=3.2, zorder=5)

ax.text(1.0, ypx(219), 'Températures 2m', fontsize=7.2, family=MONO, va='center')
ax.text(1.0, ypx(536), 'Précipitations', fontsize=7.2, family=MONO, va='center')

# precipitation on the right-hand scale
ax2 = ax.twinx()
ax2.set_ylim(ypx(600) + 35, ypx(0) + 35)
ax2.set_yticks(range(0, 76, 5))
ax2.set_yticklabels([str(v) for v in range(0, 76, 5)], fontsize=7.5, family='Liberation Sans')
ax2.tick_params(length=0, pad=14.5)
for t in ax2.get_yticklabels():
    t.set_verticalalignment('top')
for s in ax2.spines.values():
    s.set_visible(False)

dry = [0.0] * (precip_start - 1)
pst = steps[1:]
for vals, col in zip(precip_members, member_colors):
    ax2.plot(pst, dry + vals, color=col, lw=0.8, marker='+', ms=3, mew=0.7, zorder=3)
ax2.plot(pst, dry + precip_control, color='#0000FF', lw=2.3, marker='+', ms=3, zorder=4)
ax2.plot(pst, dry + precip_gfs, color='black', lw=2.0, marker='+', ms=3, zorder=4)
ax2.plot(pst, dry + precip_mean, color='#FF0000', lw=3.2, zorder=5)

# snow symbols with probabilities
for st, pc in zip(snow_steps, snow_pct):
    ax2.add_patch(Rectangle((st - 0.5, ypx(583) + 35), 1, 1.0, color='#CCFFFF', lw=0, zorder=2))
    ax2.text(st - 0.1, ypx(582) + 35, f'{pc}%', rotation=90, ha='center', va='bottom',
             color='#0000FF', fontsize=5.8, family=MONO, zorder=6)
snow_y = [ypx(589) + 35] * len(snow_steps)
ax2.scatter(snow_steps, snow_y, s=55, c='#A6D8F6', edgecolors='#7CC0EC', linewidths=0.6, zorder=6)
ax2.scatter(snow_steps, snow_y, s=14, marker='+', c='#3E96DC', linewidths=0.7, zorder=7)
ax2.scatter(snow_steps, snow_y, s=10, marker='x', c='#5AA8E4', linewidths=0.6, zorder=7)

# date labels
for d, lab in enumerate(days):
    ax.text(d * 4 + 0.75, ypx(602), lab, rotation=90, ha='center', va='top',
            fontsize=7, family=MONO)
fig.text(fx(20), fy(607), '(°C)', fontsize=7.2, family=MONO, va='center')
fig.text(fx(709), fy(607), '(mm)', fontsize=7.2, family=MONO, va='center')

# legend
fig.add_artist(Line2D([fx(35), fx(65)], [fy(647), fy(647)], color='#FF0000', lw=3.2))
fig.text(fx(75), fy(647), 'Moyenne des scénarios', fontsize=7.2, family=MONO, va='center')
fig.add_artist(Line2D([fx(225), fx(256)], [fy(637), fy(637)], color='#0000FF', lw=3.2))
fig.text(fx(265), fy(637), 'Run de contrôle', fontsize=7.2, family=MONO, va='center')
fig.add_artist(Line2D([fx(225), fx(256)], [fy(647), fy(647)], color='black', lw=3.2))
fig.text(fx(265), fy(647), 'Run GFS', fontsize=7.2, family=MONO, va='center')
fig.text(fx(180), fy(660), 'Altitude du modele : 2m', fontsize=7.2, family=MONO, va='center')
fig.text(fx(340), fy(652), '30 Perts.', fontsize=7.2, family=MONO, va='center')

for k, col in enumerate(member_colors):
    x0 = 400 + 11 * k
    fig.add_artist(Rectangle((fx(x0), fy(656)), 10 / W, 7 / H, color=col, lw=0,
                             transform=fig.transFigure))
    fig.text(fx(x0 + 5), fy(643), f'{k + 1:02d}', fontsize=5.3, family=MONO,
             fontweight='bold', ha='center', va='center')

fig.add_artist(Rectangle((fx(20), fy(701)), 420 / W, 34 / H, fill=False, ec='black',
                         lw=1.3, transform=fig.transFigure))
fig.text(fx(30), fy(679), 'Diagramme des ensembles GEFS sur 384h : 52.1N 5.2E',
         fontsize=8.2, family=MONO, fontweight='bold', va='center')
fig.text(fx(30), fy(692), 'Température 2m (°C) , précipitations (mm)',
         fontsize=7.2, family=MONO, va='center')
fig.text(fx(449), fy(672), 'Ensemble GEFS du 16/12/2021 - 00Z',
         fontsize=7.2, family=MONO, va='center')
fig.text(fx(449), fy(692), 'Copyright 2021 Meteociel.fr',
         fontsize=8.2, family=MONO, fontweight='bold', va='center')

fig.savefig('out.png', dpi=100, facecolor='white')
